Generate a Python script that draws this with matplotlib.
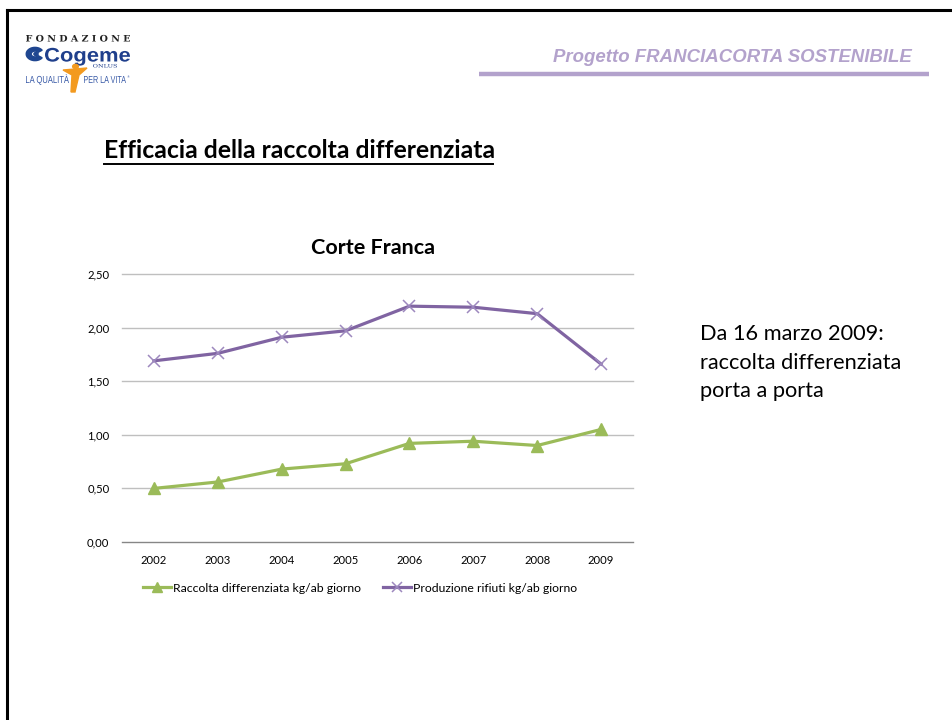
import matplotlib
matplotlib.use("Agg")
import matplotlib.pyplot as plt
from matplotlib.lines import Line2D
from matplotlib.patches import Polygon, Wedge, PathPatch
from matplotlib.textpath import TextPath
from matplotlib.font_manager import FontProperties
from matplotlib.transforms import Affine2D, IdentityTransform

# ---------------- data ----------------
years = ["2002", "2003", "2004", "2005", "2006", "2007", "2008", "2009"]
raccolta = [0.50, 0.56, 0.68, 0.73, 0.92, 0.94, 0.90, 1.05]
produzione = [1.69, 1.76, 1.91, 1.97, 2.20, 2.19, 2.13, 1.66]
yticks = [0.0, 0.5, 1.0, 1.5, 2.0, 2.5]
ytick_labels = ["0,00", "0,50", "1,00", "1,50", "2,00", "2,50"]
series_names = ["Raccolta differenziata kg/ab giorno",
                "Produzione rifiuti kg/ab giorno"]
chart_title = "Corte Franca"
slide_title = "Efficacia della raccolta differenziata"
header = "Progetto FRANCIACORTA SOSTENIBILE"
note_lines = ["Da 16 marzo 2009:", "raccolta differenziata", "porta a porta"]

GREEN = "#9BBB59"
PURPLE = "#8064A2"
BODY = ["Lato", "DejaVu Sans"]

W, H = 953, 720
fig = plt.figure(figsize=(W / 100, H / 100), dpi=100)
fig.patch.set_facecolor("white")
renderer = fig.canvas.get_renderer()


def fx(x):
    return x / W


def fy(y):
    return 1 - y / H


def size_for(s, width, size0=12, **kw):
    t = fig.text(0, 0, s, fontsize=size0, **kw)
    w = t.get_window_extent(renderer).width
    t.remove()
    return size0 * width / w


def put(x, y, s, width, ha="left", va="baseline", **kw):
    fs = size_for(s, width, **kw)
    return fig.text(fx(x), fy(y), s, fontsize=fs, ha=ha, va=va, **kw)


def path_text(s, x0, baseline, width, cap, color, **fp):
    """Logo lettering stretched into a pixel box (x0..x0+width, cap height)."""
    prop = FontProperties(**fp)
    tp = TextPath((0, 0), s, size=100, prop=prop)
    ext = tp.get_extents()
    capref = TextPath((0, 0), "H", size=100, prop=prop).get_extents().y1
    sx = width / ext.width
    sy = cap / capref
    tr = Affine2D().translate(-ext.x0, 0).scale(sx, sy).translate(x0, H - baseline)
    patch = PathPatch(tr.transform_path(tp), facecolor=color, edgecolor="none",
                      transform=IdentityTransform())
    fig.add_artist(patch)


# ---------------- slide frame ----------------
fig.add_artist(Line2D([fx(7), fx(953)], [fy(10), fy(10)], color="black", lw=2.2))
fig.add_artist(Line2D([fx(7), fx(7)], [fy(10), fy(720)], color="black", lw=2.2))

# ---------------- header ----------------
put(912, 62, header, 358, ha="right", family="Liberation Sans",
    weight="bold", style="italic", color="#B3A2CC")
fig.add_artist(Line2D([fx(479), fx(929)], [fy(73.5), fy(73.5)],
                      color="#B3A2CC", lw=3.2, solid_capstyle="butt"))

# ---------------- logo ----------------
path_text("F O N D A Z I O N E", 26, 41.5, 104, 6.5, "#222222",
          family="DejaVu Serif", weight="bold")
fig.add_artist(Wedge((fx(35), fy(54)), 0.0092, 35, 325, width=0.0052,
                     color="#1F4690", transform=fig.transFigure))
fig.add_artist(plt.Circle((fx(36), fy(54)), 0.0022, color="#1F4690",
                          transform=fig.transFigure))
path_text("Cogeme", 45, 61.5, 85, 13.5, "#1F3F8C",
          family="Liberation Sans", weight="bold")
path_text("ONLUS", 93, 67.5, 24, 3.5, "#1F3F8C", family="DejaVu Serif")
path_text("LA QUALITÀ", 26, 83, 43, 7, "#3B5CA8", family="Liberation Sans")
path_text("PER LA VITA", 84, 83, 42, 7, "#3B5CA8", family="Liberation Sans")
put(127, 78, "®", 3, family="DejaVu Sans", color="#3B5CA8")
fig.add_artist(Polygon([(fx(63), fy(70)), (fx(87), fy(68)), (fx(79), fy(75)),
                        (fx(75), fy(92)), (fx(71), fy(92)), (fx(72), fy(75))],
                       closed=True, color="#F39A1F", transform=fig.transFigure))
fig.add_artist(plt.Circle((fx(75.5), fy(66.5)), 0.0030, color="#F39A1F",
                          transform=fig.transFigure))

# ---------------- slide title ----------------
put(104, 158.5, slide_title, 389, family=BODY, weight="bold", color="black")
fig.add_artist(Line2D([fx(104), fx(493)], [fy(164), fy(164)], color="black",
                      lw=1.4))

# ---------------- chart ----------------
ax = fig.add_axes([fx(122), fy(542), 511 / W, 268 / H])
x = list(range(len(years)))
ax.set_xlim(-0.5, len(years) - 0.5)
ax.set_ylim(yticks[0], yticks[-1])
for v in yticks[1:]:
    ax.axhline(v, color="#BFBFBF", lw=1.0, clip_on=False, zorder=1)
for s in ["top", "right", "left"]:
    ax.spines[s].set_visible(False)
ax.spines["bottom"].set_color("#868686")
ax.spines["bottom"].set_linewidth(1.0)

tick_fs = size_for("2002", 26, family=BODY)
ax.set_xticks(x)
ax.set_xticklabels(years, fontsize=tick_fs, family=BODY)
ax.set_yticks(yticks)
ax.set_yticklabels(ytick_labels, fontsize=tick_fs, family=BODY)
ax.tick_params(axis="both", length=0)
ax.tick_params(axis="x", pad=9)
ax.tick_params(axis="y", pad=9)

l1, = ax.plot(x, raccolta, color=GREEN, lw=2.3, marker="^", ms=8,
              mec=GREEN, mfc=GREEN, clip_on=False, zorder=3,
              label=series_names[0])
l2, = ax.plot(x, produzione, color=PURPLE, lw=2.3, marker="x", ms=8,
              mew=1.1, mec="#9D88BE", clip_on=False, zorder=3,
              label=series_names[1])

put(373, 254, chart_title, 123, ha="center", family=BODY, weight="bold",
    color="black")

leg_fs = size_for(series_names[0], 189, family=BODY)
fig.legend(handles=[l1, l2], labels=series_names, loc="center",
           bbox_to_anchor=(fx(360), fy(588)), ncol=2, frameon=False,
           prop={"family": BODY, "size": leg_fs}, handlelength=2.3,
           handletextpad=0.15, columnspacing=1.8, borderpad=0,
           numpoints=1, markerscale=0.85)

# ---------------- side note ----------------
note_fs = size_for(note_lines[0], 183, family=BODY)
for line, base in zip(note_lines, [340.5, 369, 397]):
    fig.text(fx(700), fy(base), line, fontsize=note_fs, family=BODY,
             ha="left", va="baseline", color="black")

fig.savefig("out.png", dpi=100, facecolor="white")
